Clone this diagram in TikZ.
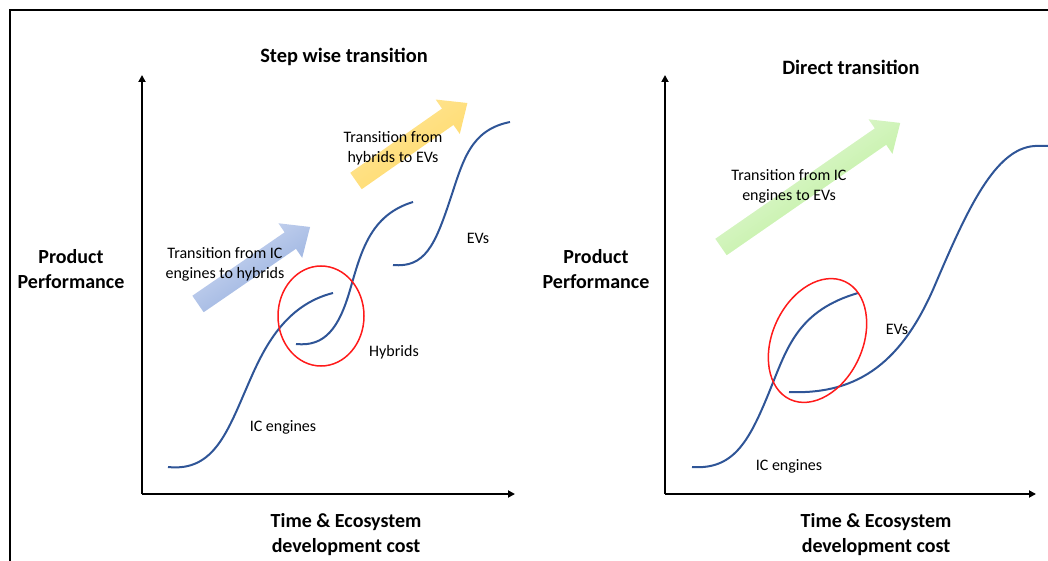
\documentclass[tikz,border=0pt]{standalone}
\usepackage{fontspec}
\setmainfont{Carlito}
\usetikzlibrary{arrows.meta}

\definecolor{curveblue}{HTML}{2F5597}
\definecolor{ringred}{HTML}{FF1A1A}
\definecolor{blueHead}{HTML}{8FAADC}
\definecolor{blueTail}{HTML}{D2DCF3}
\definecolor{yellowHead}{HTML}{FFD966}
\definecolor{yellowTail}{HTML}{FFE699}
\definecolor{greenHead}{HTML}{B5EF8F}
\definecolor{greenTail}{HTML}{EAF8E2}

% wide block arrow: tail centre (#1), angle #2, length #3, tail colour #4, head colour #5
\newcommand{\blockarrow}[5]{%
  \begin{scope}[shift={(#1)}, rotate=#2]
    \shade[left color=#4, right color=#5, shading angle=#2]
      (0,-10) -- ({#3-24},-10) -- ({#3-24},-21) -- (#3,0) --
      ({#3-24},21) -- ({#3-24},10) -- (0,10) -- cycle;
  \end{scope}}

\begin{document}
\begin{tikzpicture}[x=1pt, y=-1pt,
  axis/.style={line width=2.2pt, -{Triangle[length=7pt,width=7pt]}},
  frameline/.style={line width=1.8pt},
  scurve/.style={curveblue, line width=2pt},
  ring/.style={ringred, line width=1.5pt},
  title/.style={font=\bfseries\fontsize{20.4}{25}\selectfont, align=center},
  axislabel/.style={font=\bfseries\fontsize{20}{25}\selectfont, align=center},
  tag/.style={font=\fontsize{16}{20}\selectfont, align=center},
  arrowtag/.style={font=\fontsize{16}{20}\selectfont, align=center, inner sep=0pt}]

\useasboundingbox (0,0) rectangle (1048,561);
\clip (0,0) rectangle (1048,561);

% outer frame (left and top edges)
\draw[frameline] (10,575) -- (10,10) -- (1060,10);

% ===================== step wise transition =====================
\coordinate (o1) at (142,494);
\coordinate (y1) at (142,75);
\coordinate (x1) at (515,494);
\draw[axis] (o1) -- (y1);
\draw[axis] (o1) -- (x1);

\node[title] (t1) at (344,57) {Step wise transition};
\node[axislabel] (yl1) at (71,269) {Product\\Performance};
\node[axislabel] (xl1) at (346,535) {Time \& Ecosystem\\development cost};

\blockarrow{198,304}{34.5}{136}{blueTail}{blueHead}
\blockarrow{356,181}{35}{136}{yellowTail}{yellowHead}

\node[arrowtag] (a1) at (225,264) {Transition from IC\\engines to hybrids};
\node[arrowtag] (a2) at (393,148) {Transition from\\hybrids to EVs};

% S-curves
\draw[scurve] (168,467) .. controls (215,472) and (228,430) .. (250,380)
                        .. controls (264,348) and (285,305) .. (333,293);
\draw[scurve] (296,344) .. controls (325,347) and (339,328) .. (350,290)
                        .. controls (361,252) and (370,215) .. (413,202);
\draw[scurve] (393,265) .. controls (425,268) and (435,245) .. (450,200)
                        .. controls (463,161) and (470,130) .. (510,122);

\draw[ring] (321,316) ellipse [x radius=43, y radius=50];

\node[tag] (ic1) at (283,427) {IC engines};
\node[tag] (hy1) at (394,352) {Hybrids};
\node[tag] (ev1) at (478,238) {EVs};

% ===================== direct transition =====================
\coordinate (o2) at (665,494);
\coordinate (y2) at (665,75);
\coordinate (x2) at (1036,494);
\draw[axis] (o2) -- (y2);
\draw[axis] (o2) -- (x2);

\node[title] (t2) at (851,67) {Direct transition};
\node[axislabel] (yl2) at (596,269) {Product\\Performance};
\node[axislabel] (xl2) at (876,535) {Time \& Ecosystem\\development cost};

\blockarrow{721,247}{34.7}{218}{greenTail}{greenHead}
\node[arrowtag] (a3) at (789,186) {Transition from IC\\engines to EVs};

\draw[scurve] (692,467) .. controls (735,470) and (750,440) .. (772,385)
                        .. controls (788,345) and (800,310) .. (858,293);
\draw[scurve] (789,392) .. controls (860,395) and (903,360) .. (935,285)
                        .. controls (967,210) and (995,148) .. (1035,146) -- (1060,146);

\draw[ring, rotate around={-25:(817.5,340.5)}] (817.5,340.5) ellipse [x radius=45, y radius=65];

\node[tag] (ic2) at (789,466) {IC engines};
\node[tag] (ev2) at (897,329) {EVs};

\end{tikzpicture}
\end{document}
